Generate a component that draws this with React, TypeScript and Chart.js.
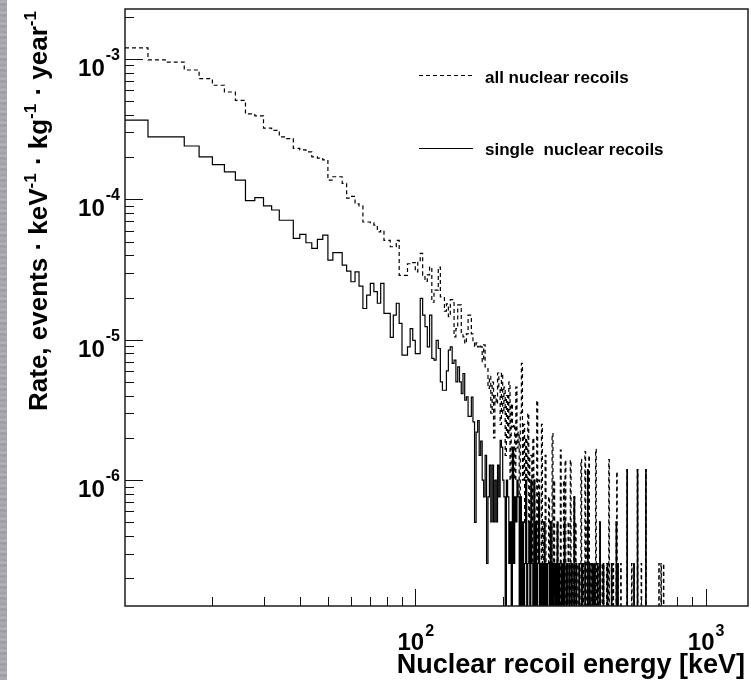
import React, { useEffect, useRef } from "react";
import { Chart, registerables } from "chart.js";

Chart.register(...registerables);

// ---- histogram binning (keV) ----
const FIRST_EDGE = 10;
const BIN_WIDTH = 2;
const LAST_EDGE = 1400;
const FLOOR = 1e-12; // empty bin -> drawn below the frame, as ROOT does on a log axis

// ---- axis ranges ----
const X_MIN = 10;
const X_MAX = 1400;
const Y_MIN = 1.27e-7;
const Y_MAX = 2.27e-3;

// single nuclear recoils, 2 keV bins from 10 keV to 250 keV
const singleLow = [
  3.67e-4, 2.79e-4, 2.79e-4, 2.40e-4, 2.01e-4, 1.77e-4, 1.57e-4, 1.37e-4, 9.8e-5, 1.03e-4,
  9.0e-5, 8.4e-5, 7.1e-5, 7.1e-5, 5.27e-5, 5.64e-5, 4.91e-5, 4.48e-5, 5.19e-5, 5.57e-5,
  3.69e-5, 4.17e-5, 4.17e-5, 3.40e-5, 3.08e-5, 2.59e-5, 3.05e-5, 2.41e-5, 1.67e-5, 2.08e-5,
  2.52e-5, 2.20e-5, 1.82e-5, 2.52e-5, 1.54e-5, 1.54e-5, 1.04e-5, 1.50e-5, 1.82e-5, 1.31e-5,
  7.77e-6, 7.77e-6, 8.9e-6, 1.20e-5, 9.9e-6, 7.98e-6, 7.98e-6, 1.97e-5, 1.50e-5, 1.24e-5,
  8.9e-6, 1.50e-5, 7.36e-6, 7.16e-6, 9.9e-6, 8.67e-6, 5.01e-6, 4.37e-6, 4.37e-6, 6.0e-6,
  8.43e-6, 8.9e-6, 6.78e-6, 7.16e-6, 5.01e-6, 6.41e-6, 5.01e-6, 4.14e-6, 5.75e-6, 3.71e-6,
  3.92e-6, 2.85e-6, 2.85e-6, 3.9e-6, 2.6e-6, 5.0e-7, 2.2e-6, 2.66e-6, 1.5e-6, 1.9e-6,
  1.0e-6, 7.6e-7, 1.5e-6, 2.55e-7, 7.6e-7, 1.28e-6, 5.04e-7, 1.28e-6, 5.04e-7, 1.0e-6,
  5.04e-7, 1.28e-6, 7.6e-7, 1.92e-6, 1.72e-6, 1.0e-6, 7.6e-7, 0, 1.0e-6, 7.6e-7,
  2.55e-7, 5.04e-7, 0, 1.72e-6, 2.55e-7, 7.6e-7, 5.04e-7, 1.0e-6, 7.6e-7, 0,
  7.6e-7, 0, 5.04e-7, 0, 2.55e-7, 1.0e-6, 0, 2.55e-7, 5.04e-7, 0,
];

// all nuclear recoils, 2 keV bins from 10 keV to 250 keV
const allLow = [
  1.20e-3, 9.85e-4, 9.5e-4, 8.35e-4, 7.24e-4, 6.5e-4, 5.82e-4, 5.08e-4, 4.06e-4, 3.93e-4,
  3.22e-4, 3.1e-4, 2.79e-4, 2.71e-4, 2.31e-4, 2.25e-4, 2.18e-4, 2.01e-4, 1.97e-4, 1.91e-4,
  1.37e-4, 1.45e-4, 1.45e-4, 1.30e-4, 1.02e-4, 1.05e-4, 9.3e-5, 9.0e-5, 6.9e-5, 6.9e-5,
  6.8e-5, 6.56e-5, 5.87e-5, 6.0e-5, 5.1e-5, 5.1e-5, 4.6e-5, 4.6e-5, 5.1e-5, 2.88e-5,
  2.88e-5, 2.88e-5, 3.48e-5, 3.48e-5, 3.55e-5, 3.05e-5, 3.6e-5, 4.12e-5, 2.88e-5, 2.6e-5,
  2.9e-5, 3.3e-5, 1.85e-5, 2.26e-5, 2.26e-5, 3.3e-5, 2.02e-5, 2.0e-5, 1.6e-5, 1.8e-5,
  1.46e-5, 1.93e-5, 1.93e-5, 1.05e-5, 1.2e-5, 1.77e-5, 1.77e-5, 1.1e-5, 1.05e-5, 9.4e-6,
  1.1e-5, 1.5e-5, 1.5e-5, 1.1e-5, 9.5e-6, 8.9e-6, 9.5e-6, 8.9e-6, 9.2e-6, 8.9e-6,
  7.0e-6, 9.2e-6, 6.4e-6, 6.4e-6, 4.5e-6, 5.5e-6, 3.0e-6, 5.0e-6, 2.0e-6, 4.0e-6,
  3.5e-6, 5.8e-6, 4.6e-6, 2.5e-6, 5.8e-6, 3.0e-6, 4.6e-6, 1.5e-6, 4.0e-6, 2.0e-6,
  5.0e-6, 1.0e-6, 3.5e-6, 2.4e-6, 2.5e-6, 1.0e-6, 4.6e-6, 1.7e-6, 2.2e-6, 7.6e-7,
  3.0e-6, 6.8e-6, 1.0e-6, 2.5e-6, 5.0e-7, 2.0e-6, 1.0e-6, 3.0e-6, 5.04e-7, 1.5e-6,
];

// above 250 keV: only the non-empty 2 keV bins (bin start energy, value)
const singleHighE = [
  250, 252, 256, 260, 264, 266, 270, 274, 278, 282, 286, 288, 292, 296, 300, 304, 308, 312,
  318, 322, 326, 332, 338, 344, 352, 358, 366, 374, 384, 392, 398, 406, 414, 424, 432, 444,
  458, 474, 492, 498, 536, 566, 582, 622,
];
const singleHighV = [
  1.0e-6, 2.55e-7, 1.0e-6, 5.04e-7, 2.55e-7, 7.6e-7, 2.55e-7, 2.55e-7, 5.04e-7, 2.55e-7, 2.55e-7, 2.55e-7, 5.04e-7, 2.55e-7, 2.55e-7, 2.55e-7, 5.04e-7, 2.55e-7,
  2.55e-7, 2.55e-7, 5.04e-7, 2.55e-7, 2.55e-7, 2.55e-7, 7.6e-7, 2.55e-7, 2.55e-7, 2.55e-7, 2.55e-7, 1.19e-6, 2.55e-7, 2.55e-7, 2.55e-7, 2.55e-7, 5.04e-7, 2.55e-7,
  2.55e-7, 2.55e-7, 5.04e-7, 2.55e-7, 1.19e-6, 2.55e-7, 1.19e-6, 1.19e-6,
];

const allHighE = [
  250, 252, 254, 256, 258, 260, 262, 264, 266, 268, 270, 272, 274, 276, 278, 280, 282, 284,
  286, 288, 290, 292, 296, 298, 300, 304, 306, 308, 312, 316, 318, 320, 322, 324, 326, 328,
  332, 336, 338, 342, 344, 348, 352, 356, 358, 364, 366, 372, 374, 378, 384, 390, 392, 396,
  398, 404, 406, 410, 414, 418, 424, 426, 432, 440, 444, 456, 458, 464, 474, 480, 492, 494,
  498, 510, 536, 556, 566, 582, 600, 622, 690, 702, 716,
];
const allHighV = [
  1.5e-6, 2.55e-7, 2.0e-6, 1.0e-6, 5.04e-7, 5.04e-7, 3.7e-6, 2.55e-7, 1.0e-6, 2.55e-7, 2.55e-7, 2.5e-6, 2.55e-7, 5.04e-7, 5.04e-7, 1.5e-6, 2.55e-7, 2.55e-7,
  2.55e-7, 7.6e-7, 2.55e-7, 5.04e-7, 2.15e-6, 2.55e-7, 1.0e-6, 2.55e-7, 2.55e-7, 5.04e-7, 2.55e-7, 1.64e-6, 2.55e-7, 2.55e-7, 2.55e-7, 1.0e-6, 5.04e-7, 1.39e-6,
  2.55e-7, 5.04e-7, 2.55e-7, 1.39e-6, 2.55e-7, 2.55e-7, 7.6e-7, 5.04e-7, 2.55e-7, 2.55e-7, 2.55e-7, 1.4e-6, 2.55e-7, 2.55e-7, 1.6e-6, 5.04e-7, 1.19e-6, 1.5e-6,
  2.55e-7, 2.55e-7, 2.55e-7, 2.55e-7, 2.55e-7, 1.66e-6, 2.55e-7, 2.55e-7, 5.04e-7, 2.55e-7, 2.55e-7, 2.55e-7, 2.55e-7, 1.4e-6, 2.55e-7, 2.55e-7, 5.04e-7, 1.15e-6,
  2.55e-7, 2.55e-7, 1.19e-6, 2.55e-7, 2.55e-7, 1.19e-6, 2.55e-7, 1.19e-6, 2.55e-7, 2.55e-7, 2.55e-7,
];

// ---- ticks and labels ----
const xMajorTicks = [100, 1000];
const xMajorExp = ["2", "3"];
const xMinorTicks = [20, 30, 40, 50, 60, 70, 80, 90, 200, 300, 400, 500, 600, 700, 800, 900];
const yMajorTicks = [1e-6, 1e-5, 1e-4, 1e-3];
const yMajorExp = ["-6", "-5", "-4", "-3"];
const yMinorMantissas = [2, 3, 4, 5, 6, 7, 8, 9];
const yDecades = [1e-7, 1e-6, 1e-5, 1e-4, 1e-3];

const legendLabels = ["all nuclear recoils", "single  nuclear recoils"];
const xTitle = "Nuclear recoil energy [keV]";
const yTitleParts: [string, boolean][] = [
  ["Rate, events \u00b7 keV", false],
  ["-1", true],
  [" \u00b7 kg", false],
  ["-1", true],
  [" \u00b7 year", false],
  ["-1", true],
];

const FONT = '"Liberation Sans", Arial, Helvetica, sans-serif';

function buildSteps(low: number[], highE: number[], highV: number[]) {
  const bins = new Map<number, number>();
  low.forEach((v, i) => bins.set(FIRST_EDGE + i * BIN_WIDTH, v));
  highE.forEach((e, i) => bins.set(e, highV[i]));
  const pts: { x: number; y: number }[] = [];
  let prev = NaN;
  for (let e = FIRST_EDGE; e < LAST_EDGE; e += BIN_WIDTH) {
    const v = bins.get(e) ?? 0;
    const y = v > 0 ? v : FLOOR;
    if (y !== prev) {
      pts.push({ x: e, y });
      prev = y;
    }
  }
  pts.push({ x: LAST_EDGE, y: prev });
  return pts;
}

const rootAxes = {
  id: "rootAxes",
  afterDatasetsDraw(chart: any) {
    const { ctx, chartArea: a, scales } = chart;
    const xs = scales.x;
    const ys = scales.y;
    ctx.save();

    // frame
    ctx.strokeStyle = "#1c1c1c";
    ctx.lineWidth = 1.5;
    ctx.strokeRect(a.left, a.top, a.right - a.left, a.bottom - a.top);

    // ticks (inside the frame)
    ctx.lineWidth = 1;
    ctx.strokeStyle = "#111";
    ctx.beginPath();
    for (const t of yMajorTicks) {
      const p = Math.round(ys.getPixelForValue(t)) + 0.5;
      ctx.moveTo(a.left, p);
      ctx.lineTo(a.left + 18, p);
    }
    for (const d of yDecades) {
      for (const m of yMinorMantissas) {
        const v = d * m;
        if (v <= Y_MIN || v >= Y_MAX) continue;
        const p = Math.round(ys.getPixelForValue(v)) + 0.5;
        ctx.moveTo(a.left, p);
        ctx.lineTo(a.left + 9, p);
      }
    }
    for (const t of xMajorTicks) {
      const p = Math.round(xs.getPixelForValue(t)) + 0.5;
      ctx.moveTo(p, a.bottom);
      ctx.lineTo(p, a.bottom - 17);
    }
    for (const t of xMinorTicks) {
      const p = Math.round(xs.getPixelForValue(t)) + 0.5;
      ctx.moveTo(p, a.bottom);
      ctx.lineTo(p, a.bottom - 9);
    }
    ctx.stroke();

    ctx.fillStyle = "#000";
    ctx.textBaseline = "alphabetic";
    ctx.textAlign = "left";
    const big = `bold 24px ${FONT}`;
    const small = `bold 16px ${FONT}`;

    // y tick labels
    yMajorTicks.forEach((t, i) => {
      const p = ys.getPixelForValue(t);
      ctx.font = small;
      const ew = ctx.measureText(yMajorExp[i]).width;
      ctx.font = big;
      const tw = ctx.measureText("10").width;
      const x0 = 120 - ew - tw - 1;
      ctx.fillText("10", x0, p + 17);
      ctx.font = small;
      ctx.fillText(yMajorExp[i], x0 + tw + 1, p + 1);
    });

    // x tick labels
    xMajorTicks.forEach((t, i) => {
      const p = xs.getPixelForValue(t);
      ctx.font = small;
      const ew = ctx.measureText(xMajorExp[i]).width;
      ctx.font = big;
      const tw = ctx.measureText("10").width;
      const x0 = p - (tw + ew) / 2;
      ctx.fillText("10", x0, a.bottom + 44);
      ctx.font = small;
      ctx.fillText(xMajorExp[i], x0 + tw + 1, a.bottom + 30);
    });

    // x title
    ctx.font = `bold 27px ${FONT}`;
    ctx.textAlign = "right";
    ctx.fillText(xTitle, 745, 673);

    // y title (rotated)
    ctx.save();
    ctx.translate(47, 411);
    ctx.rotate(-Math.PI / 2);
    ctx.textAlign = "left";
    let cx = 0;
    for (const [txt, sup] of yTitleParts) {
      ctx.font = sup ? `bold 17px ${FONT}` : `bold 26px ${FONT}`;
      ctx.fillText(txt, cx, sup ? -11 : 0);
      cx += ctx.measureText(txt).width + (sup ? 1 : 0);
    }
    ctx.restore();

    // legend
    ctx.textAlign = "left";
    ctx.lineWidth = 1.2;
    ctx.strokeStyle = "#000";
    ctx.setLineDash([4, 3]);
    ctx.beginPath();
    ctx.moveTo(419, 75.5);
    ctx.lineTo(473, 75.5);
    ctx.stroke();
    ctx.setLineDash([]);
    ctx.beginPath();
    ctx.moveTo(419, 148.5);
    ctx.lineTo(473, 148.5);
    ctx.stroke();
    ctx.font = `bold 17px ${FONT}`;
    ctx.fillText(legendLabels[0], 485, 82.5);
    ctx.fillText(legendLabels[1], 485, 155);

    ctx.restore();
  },
};

export default function App() {
  const ref = useRef<HTMLCanvasElement>(null);
  useEffect(() => {
    const allPts = buildSteps(allLow, allHighE, allHighV);
    const singlePts = buildSteps(singleLow, singleHighE, singleHighV);
    const chart = new Chart(ref.current as HTMLCanvasElement, {
      type: "line",
      data: {
        datasets: [
          {
            label: legendLabels[0],
            data: allPts,
            borderColor: "#000",
            borderWidth: 1.2,
            borderDash: [4, 3],
            stepped: "before",
            pointRadius: 0,
            fill: false,
          },
          {
            label: legendLabels[1],
            data: singlePts,
            borderColor: "#000",
            borderWidth: 1.2,
            stepped: "before",
            pointRadius: 0,
            fill: false,
          },
        ],
      } as any,
      options: {
        animation: false,
        responsive: false,
        devicePixelRatio: 1,
        events: [],
        layout: { padding: { left: 125, right: 3, top: 9, bottom: 74 } },
        scales: {
          x: { type: "logarithmic", min: X_MIN, max: X_MAX, display: false, bounds: "data" },
          y: { type: "logarithmic", min: Y_MIN, max: Y_MAX, display: false, bounds: "data" },
        },
        plugins: { legend: { display: false }, tooltip: { enabled: false } },
      } as any,
      plugins: [rootAxes],
    });
    return () => chart.destroy();
  }, []);

  return (
    <div
      style={{
        position: "absolute",
        left: 0,
        top: 0,
        width: 751,
        height: 680,
        background: "#fff",
        overflow: "hidden",
      }}
    >
      <canvas
        ref={ref}
        width={751}
        height={680}
        style={{ position: "absolute", left: 0, top: 0, width: 751, height: 680 }}
      />
      <div
        style={{
          position: "absolute",
          left: 0,
          top: 0,
          width: 7,
          height: 680,
          background:
            "repeating-linear-gradient(180deg, #a6a6ac 0px, #b6b6bc 2px, #98989e 4px, #acacb2 7px, #9e9ea4 11px)",
        }}
      />
    </div>
  );
}
